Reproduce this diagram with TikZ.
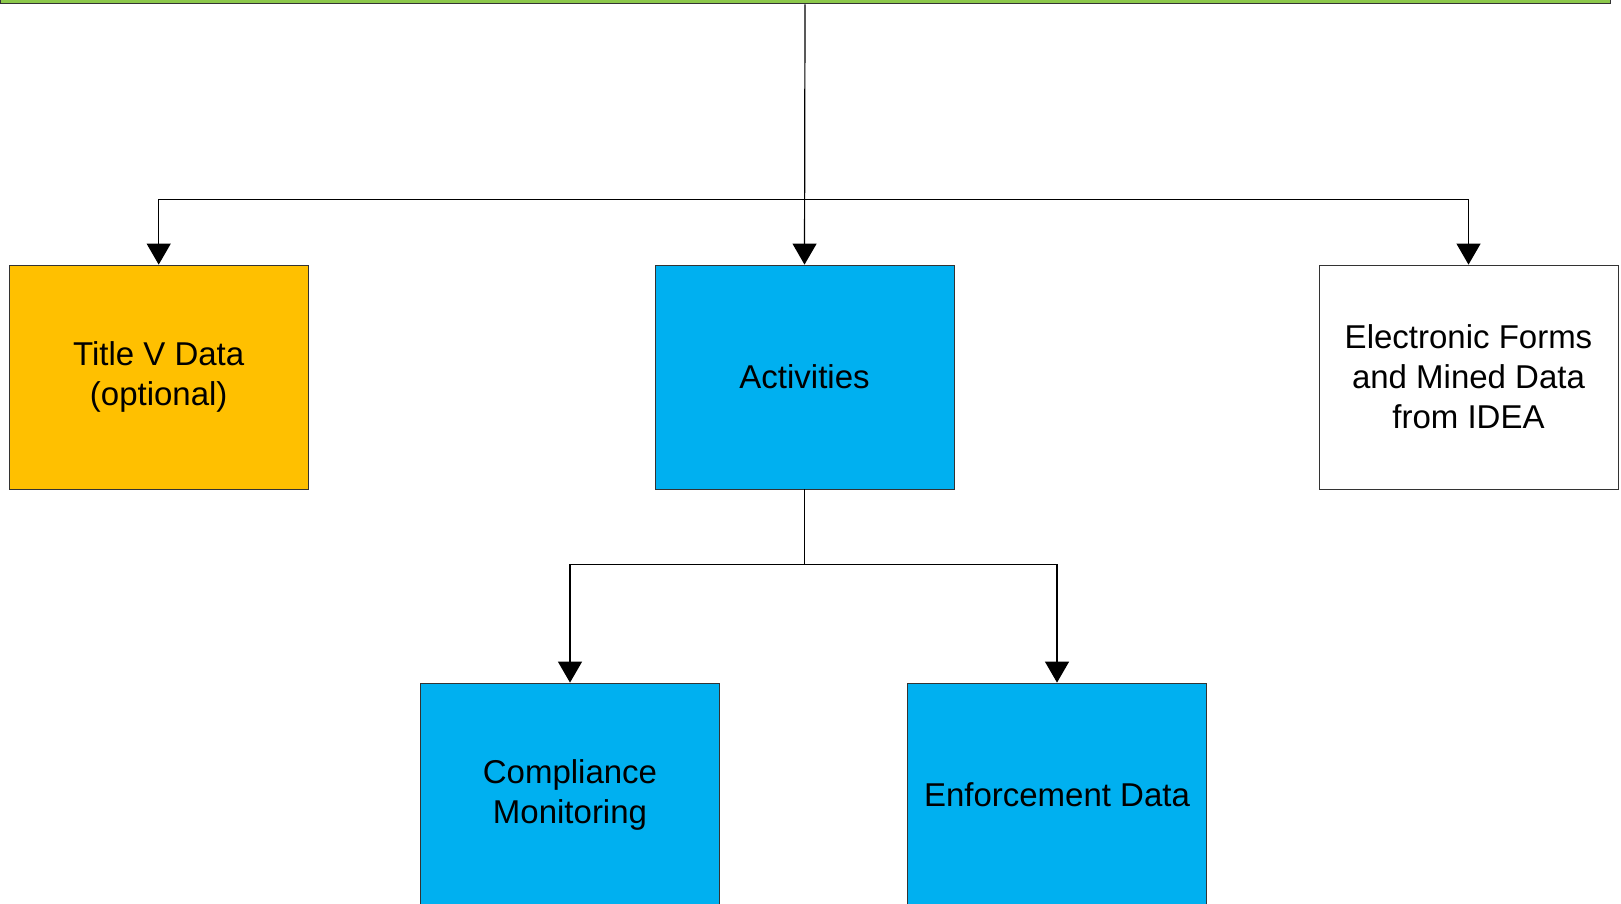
\documentclass[tikz,border=0pt]{standalone}
\usepackage{fontspec}
\setmainfont{Liberation Sans}
\usetikzlibrary{calc,arrows.meta}
\definecolor{titlev}{HTML}{FFC000}
\definecolor{actblue}{HTML}{00B0F0}
\definecolor{topgreen}{HTML}{8CC84B}
\tikzset{
	box/.style={draw=black!80,line width=0.8pt,minimum width=299pt,minimum height=224pt,align=center,font=\fontsize{33}{40}\selectfont},
	link/.style={line width=1.2pt,-{Triangle[width=24pt,length=21pt]}}
}
\begin{document}
\begin{tikzpicture}[x=1pt,y=-1pt]
	\useasboundingbox (0,0) rectangle (1621,904);
	\node (top) at (805,-99) [draw=black!80,line width=1pt,fill=topgreen,minimum width=1610pt,minimum height=206pt] {};
	\node (titlev) at (158.7,377) [box,fill=titlev] {Title V Data\\(optional)};
	\node (act) at (804.5,377) [box,fill=actblue] {Activities};
	\node (elec) at (1468.5,377) [box,fill=white] {Electronic Forms\\and Mined Data\\from IDEA};
	\node (comp) at (570,795) [box,fill=actblue] {Compliance\\Monitoring};
	\node (enf) at (1057,795) [box,fill=actblue] {Enforcement Data};
	\coordinate (S1) at ($(act.north) + (0,-65)$);
	\coordinate (S2) at ($(act.south) + (0,75)$);
	\draw[link] (top.south) -- (act.north);
	\draw[link] (S1) -| (titlev.north);
	\draw[link] (S1) -| (elec.north);
	\draw[line width=1.2pt] (act.south) -- (S2);
	\draw[link] (S2) -| (comp.north);
	\draw[link] (S2) -| (enf.north);
\end{tikzpicture}
\end{document}
